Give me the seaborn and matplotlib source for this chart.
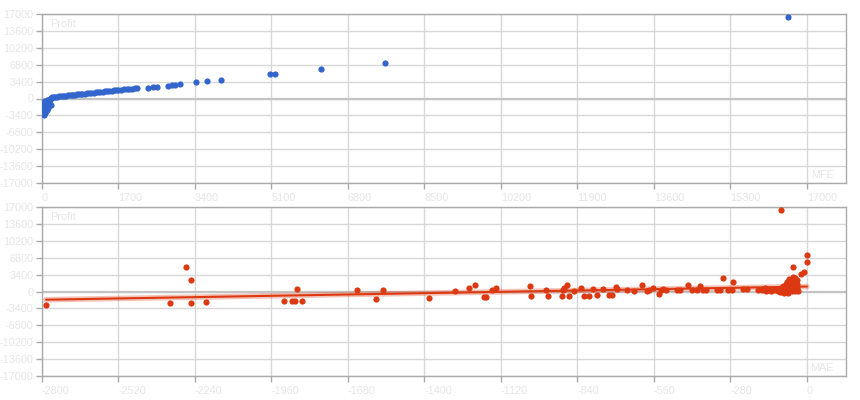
import numpy as np
import pandas as pd
import matplotlib
matplotlib.use('Agg')
import matplotlib.pyplot as plt
import seaborn as sns

# top panel: MFE vs Profit
mfe = [20, 30, 45, 60, 40, 70, 90, 110, 50, 80, 130, 150, 100, 160, 60, 120, 170, 180,
       190, 200, 35, 25, 55, 140, 210, 75, 65, 85, 95, 115,
       220, 260, 300, 340, 380, 420, 460, 500, 540, 580, 620, 660, 700, 740, 780, 820,
       860, 900, 950, 1000, 1050, 1100, 1150, 1200, 1250, 1300, 1350, 1400, 1450, 1500,
       1550, 1600, 1650, 1700, 1760, 1820, 1880, 1940, 2000, 2060, 2120,
       2362, 2473, 2549, 2793, 2882, 2955, 3066, 3429, 3660, 3971,
       5071, 5180, 6195, 7617, 16573]
profit_top = [-3100, -2700, -2400, -2900, -2000, -1800, -2200, -1500, -1200, -1000, -900, -1300,
              -700, -600, -600, -400, -300, -100, 100, 200, -1600, -800, -3300, -2000, -1400,
              -2500, -1900, -2600, -1100, -2300,
              270, 300, 340, 380, 420, 460, 500, 540, 580, 620, 660, 700, 740, 780, 820, 860,
              900, 940, 990, 1030, 1080, 1130, 1170, 1220, 1270, 1320, 1360, 1410, 1460, 1510,
              1560, 1610, 1650, 1700, 1760, 1820, 1880, 1930, 1990, 2050, 2110,
              2165, 2290, 2370, 2570, 2690, 2770, 2830, 3240, 3440, 3785,
              4860, 5000, 6010, 7140, 16450]

# bottom panel: MAE vs Profit
mae = [-2785, -2330, -2274, -2256, -2256, -2200, -1914, -1886, -1874, -1850, -1868,
       -1648, -1578, -1553, -1382, -1287, -1236, -1214, -1182, -1176, -1153, -1138,
       -1013, -1010, -955, -949, -898, -892, -888, -877, -872, -853, -828, -816, -797,
       -782, -770, -748, -724, -712, -700, -695, -660, -633, -602, -585, -577, -563,
       -541, -536, -526, -516, -477, -465, -435, -419, -404,
       -390, -380, -368, -331, -319, -306, -288, -276, -270, -233, -221, -179, -166, -154,
       -150, -140, -130, -120,
       -110, -105, -100, -98, -95, -92, -90, -88, -85, -83, -80, -78, -76, -75, -73, -72,
       -70, -68, -66, -65, -64, -62, -60, -58, -57, -55, -53, -52, -50, -48, -46, -45,
       -44, -42, -40, -38, -36, -35,
       -50, -31, -22, -11, 0, 0, -94]
profit_bot = [-2800, -2340, 4860, 2260, -2280, -2200, -1940, -1940, -1940, -1940, 600,
              260, -1600, 260, -1400, 60, 660, 1320, -1200, -1200, 400, 720,
              1200, -1000, 320, -1000, -1000, 320, 800, 1320, -1000, 120, 720, -880, -880,
              460, -800, 460, -800, -800, 1000, 460, 260, 120, 1320, 60, 320, 800,
              -540, 320, 460, 320, 320, 320, 1260, 320, 320,
              1120, 260, 260, 260, 260, 2800, 260, 260, 1860, 460, 460, 260, 260, 660,
              200, 400, 100, 300,
              300, 100, 500, -200, 800, 0, 300, 1200, 600, -400, 200, 900, 1500, 400, 100, 2000,
              700, -300, 1100, 2500, 300, 1700, 800, 2200, 500, 1300, 100, 3000, 900, 1800, 600, 2700,
              200, 1400, 1000, 2300, 700, 1600,
              5000, 120, 3460, 3860, 7260, 5930, 16320]

trend_x = [-2785, 0]
trend_y = [-1650, 1000]

y_ticks = [-17000, -13600, -10200, -6800, -3400, 0, 3400, 6800, 10200, 13600, 17000]
x_ticks_top = [0, 1700, 3400, 5100, 6800, 8500, 10200, 11900, 13600, 15300, 17000]
x_ticks_bot = [-2800, -2520, -2240, -1960, -1680, -1400, -1120, -840, -560, -280, 0]

blue = '#3366cc'
red = '#dc3912'
text_c = '#e6e6e6'
grid_c = '#d8d8d8'
frame_c = '#aaaaaa'

sns.set_style('white')
plt.rcParams['font.family'] = ['Liberation Sans', 'DejaVu Sans']

fig = plt.figure(figsize=(8.6, 4.0), dpi=100)
ax1 = fig.add_axes([42 / 860, 1 - 183 / 400, 804 / 860, 169 / 400])
ax2 = fig.add_axes([42 / 860, 1 - 376 / 400, 804 / 860, 169 / 400])

top_df = pd.DataFrame({'MFE': mfe, 'Profit': profit_top})
bot_df = pd.DataFrame({'MAE': mae, 'Profit': profit_bot})
trend_df = pd.DataFrame({'MAE': trend_x, 'Profit': trend_y})

sns.scatterplot(data=top_df, x='MFE', y='Profit', ax=ax1, color=blue, s=20,
                linewidth=0, zorder=3)
sns.lineplot(data=trend_df, x='MAE', y='Profit', ax=ax2, color=red, lw=4, alpha=0.3,
             zorder=2)
sns.lineplot(data=trend_df, x='MAE', y='Profit', ax=ax2, color=red, lw=1.5, zorder=2)
sns.scatterplot(data=bot_df, x='MAE', y='Profit', ax=ax2, color=red, s=20,
                linewidth=0, zorder=3)

for ax, xt, xlim, xname in [(ax1, x_ticks_top, (0, 17867), 'MFE'),
                            (ax2, x_ticks_bot, (-2800, 143), 'MAE')]:
    ax.set_xlim(*xlim)
    ax.set_ylim(-17000, 17000)
    ax.set_xticks(xt)
    ax.set_yticks(y_ticks)
    ax.set_xticklabels([str(v) for v in xt], ha='left')
    ax.set_yticklabels([str(v) for v in y_ticks])
    ax.tick_params(axis='both', colors=frame_c, labelcolor=text_c, labelsize=7.8,
                   length=4, width=1, direction='out', bottom=True, left=True)
    ax.tick_params(axis='y', pad=2)
    ax.tick_params(axis='x', pad=3)
    ax.grid(True, color=grid_c, lw=1, zorder=0)
    ax.set_axisbelow(True)
    ax.axhline(0, color='#c4c4c4', lw=1.6, zorder=1)
    for sp in ax.spines.values():
        sp.set_color(frame_c)
        sp.set_linewidth(1)
    ax.set_xlabel('')
    ax.set_ylabel('')
    ax.text(0.01, 0.94, 'Profit', transform=ax.transAxes, color=text_c, fontsize=7.8,
            ha='left', va='center')
    ax.text(0.985, 0.05, xname, transform=ax.transAxes, color=text_c, fontsize=7.8,
            ha='right', va='center')

fig.savefig('out.png', dpi=100)
